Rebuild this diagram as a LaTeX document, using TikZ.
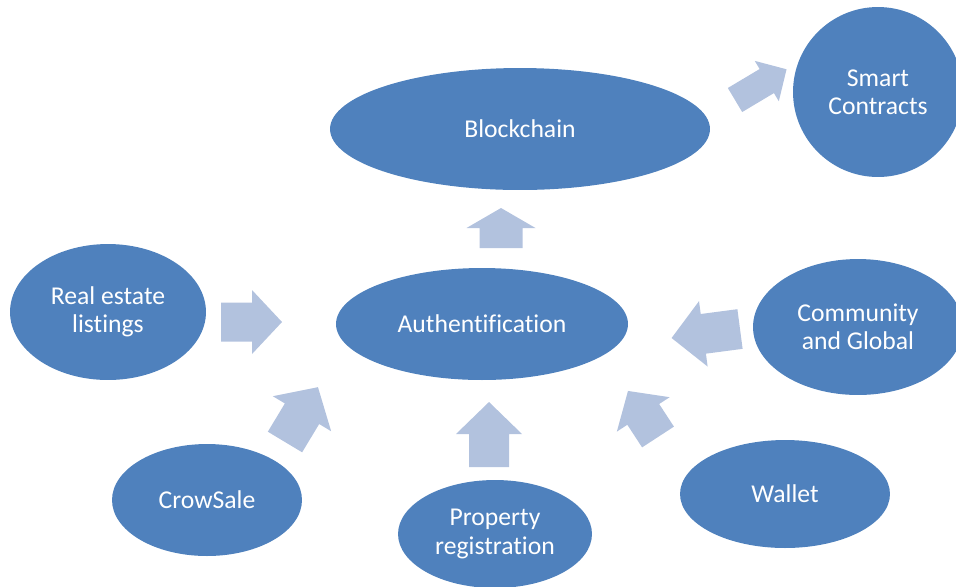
\documentclass[tikz,border=0pt]{standalone}
\usepackage{fontspec}
\setmainfont{Carlito}[Ligatures=NoCommon]
\usepackage{tikz}
\usetikzlibrary{shapes.geometric,positioning,calc}

\definecolor{ovalblue}{HTML}{4F81BD}
\definecolor{arrowblue}{HTML}{B2C2DE}

\tikzset{
  oval/.style={ellipse,fill=ovalblue,inner sep=0pt,align=center,text=white},
  pics/blockarrow/.style n args={4}{code={
    \fill[arrowblue] (0,-#2/2) -- (#1-#4,-#2/2) -- (#1-#4,-#3/2) -- (#1,0)
      -- (#1-#4,#3/2) -- (#1-#4,#2/2) -- (0,#2/2) -- cycle;
  }}
}

\begin{document}
\begin{tikzpicture}[x=0.02cm,y=-0.02cm, every node/.style={font=\fontsize{14.6}{16}\selectfont}]
\clip (0,0) rectangle (956,586);
\useasboundingbox (0,0) rectangle (956,586);

% ovals
\node[oval,minimum width=7.6cm,minimum height=2.44cm] (chain) at (520,129) {Blockchain};
\node[oval,circle,minimum size=3.4cm] (smart) at (878,92) {Smart\\Contracts};
\node[oval,minimum width=5.84cm,minimum height=2.24cm] (auth) at (482,324) {Authentification};
\node[oval,minimum width=3.92cm,minimum height=2.72cm] (listing) at (108,312) {Real estate\\listings};
\node[oval,minimum width=4.2cm,minimum height=2.72cm] (community) at (858,327) {Community\\and Global};
\node[oval,minimum width=3.8cm,minimum height=2.24cm] (crowsale) at (207,500) {CrowSale};
\node[oval,minimum width=3.88cm,minimum height=2.16cm] (property) at (495,534) {Property\\registration};
\node[oval,minimum width=4.2cm,minimum height=2.16cm] (wallet) at (785,494) {Wallet};

% block arrows: tail x/y, angle, length, shaft, head width, head length
\foreach \x/\y/\a/\l/\s/\h/\k in {501/248/90/40/43/69/20, 221/322/0/61/39/64/30,
    285/442/59/64/40/68/31, 489/467/90/65/40/66/32, 658/437/123.1/55/38/63/28,
    740/329/187.5/69/40/66/32, 735/100/30.8/60/28/47/23}
  \pic[rotate=\a] at (\x,\y) {blockarrow={\l}{\s}{\h}{\k}};
\end{tikzpicture}
\end{document}
